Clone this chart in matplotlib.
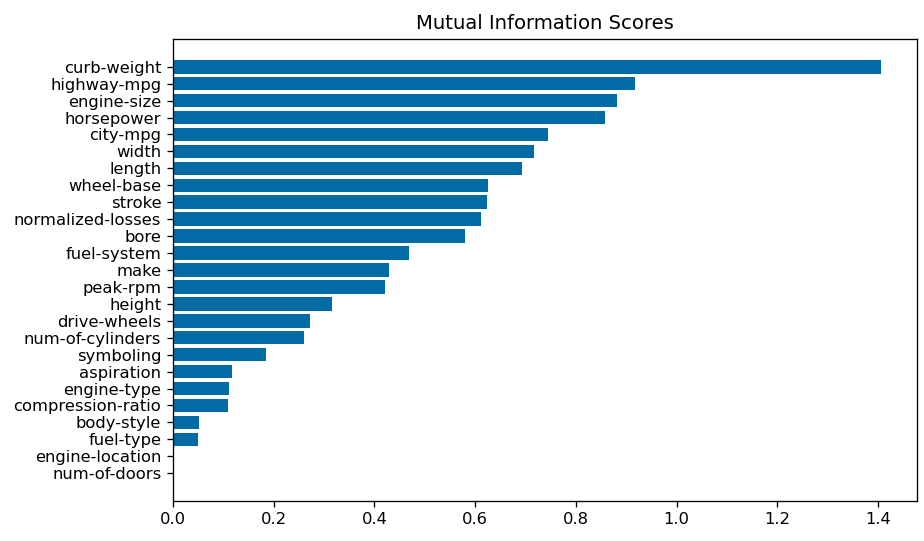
import numpy as np
import matplotlib
matplotlib.use('Agg')
import matplotlib.pyplot as plt


# mutual information scores, highest first
features = [
    'curb-weight', 'highway-mpg', 'engine-size', 'horsepower', 'city-mpg',
    'width', 'length', 'wheel-base', 'stroke', 'normalized-losses', 'bore',
    'fuel-system', 'make', 'peak-rpm', 'height', 'drive-wheels',
    'num-of-cylinders', 'symboling', 'aspiration', 'engine-type',
    'compression-ratio', 'body-style', 'fuel-type', 'engine-location',
    'num-of-doors',
]
scores = [
    1.406, 0.917, 0.881, 0.857, 0.745,
    0.716, 0.694, 0.625, 0.623, 0.612, 0.580,
    0.468, 0.430, 0.421, 0.316, 0.273,
    0.261, 0.185, 0.118, 0.111,
    0.109, 0.053, 0.051, 0.0,
    0.0,
]

DPI = 118


def main():
    plt.style.use('tableau-colorblind10')
    fig = plt.figure(figsize=(924 / DPI, 541 / DPI), dpi=DPI)
    ax = fig.add_subplot(111)
    fig.subplots_adjust(left=0.187, right=0.992, top=0.928, bottom=0.074)

    # ascending order so the largest ends up on top
    vals = np.array(scores)[::-1]
    names = features[::-1]
    width = np.arange(len(vals))
    ax.barh(width, vals)
    ax.set_yticks(width)
    ax.set_yticklabels(names)
    ax.set_title('Mutual Information Scores')

    fig.savefig('out.png', dpi=DPI)


if __name__ == "__main__":
    main()
